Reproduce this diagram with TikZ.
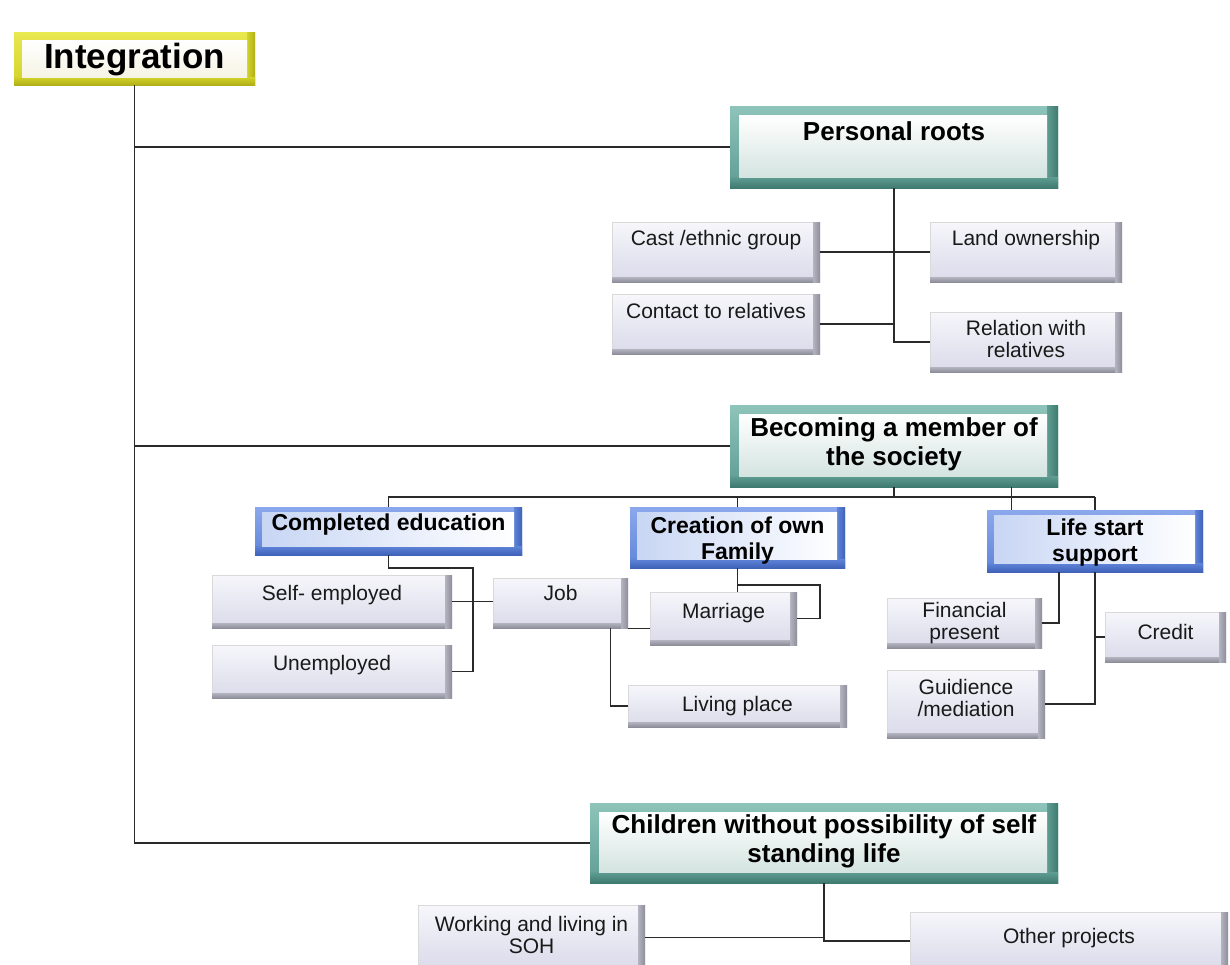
\documentclass[tikz,border=0pt]{standalone}
\usepackage{fontspec}
\setmainfont{Liberation Sans}
\usetikzlibrary{fit}

\definecolor{wirec}{HTML}{2A2A2A}
\definecolor{leafT}{HTML}{F6F6FB}
\definecolor{leafB}{HTML}{DADAEA}
\definecolor{leafE1}{HTML}{B4B4C0}
\definecolor{leafE2}{HTML}{8E8E9A}
\definecolor{tealL}{HTML}{8EC4BA}
\definecolor{tealM}{HTML}{5F9C92}
\definecolor{tealD}{HTML}{3F7A70}
\definecolor{tealIn}{HTML}{D4E4E0}
\definecolor{blueL}{HTML}{8CA8EC}
\definecolor{blueM}{HTML}{5F84D8}
\definecolor{blueD}{HTML}{3F62B8}
\definecolor{blueIn}{HTML}{C8D6F4}
\definecolor{yelL}{HTML}{E8E850}
\definecolor{yelM}{HTML}{D2D22A}
\definecolor{yelD}{HTML}{B0B018}
\definecolor{yelIn}{HTML}{F6F4E4}

\tikzset{
  wire/.style={draw=wirec, line width=0.75pt},
  lbl/.style={font=\fontsize{10.5}{11}\selectfont, text=black!90, align=center, inner sep=0pt},
  headlbl/.style={font=\bfseries\fontsize{13}{14.5}\selectfont, text=black, align=center, inner sep=0pt},
  sublbl/.style={font=\bfseries\fontsize{11.5}{13}\selectfont, text=black, align=center, inner sep=0pt},
  toplbl/.style={font=\bfseries\fontsize{17.5}{20}\selectfont, text=black, inner sep=0pt},
  % light bevelled leaf box
  leaf/.style={inner sep=0pt, fill=white,
    path picture={
      \shade[top color=leafT, bottom color=leafB]
        (path picture bounding box.south west) rectangle (path picture bounding box.north east);
      \shade[left color=leafE1, right color=leafE2]
        ([xshift=-3.5pt]path picture bounding box.south east) rectangle (path picture bounding box.north east);
      \shade[top color=leafE1, bottom color=leafE2]
        (path picture bounding box.south west) rectangle ([xshift=-3.5pt,yshift=2.5pt]path picture bounding box.south east);
      \draw[gray!30, line width=0.4pt]
        ([yshift=2.5pt]path picture bounding box.south west) -- (path picture bounding box.north west)
        -- ([xshift=-3.5pt]path picture bounding box.north east);
    }},
  % teal framed heading box
  tealbox/.style={inner sep=0pt, fill=white,
    path picture={
      \shade[top color=tealL, bottom color=tealM]
        (path picture bounding box.south west) rectangle (path picture bounding box.north east);
      \shade[left color=tealM, right color=tealD]
        ([xshift=-5.5pt]path picture bounding box.south east) rectangle (path picture bounding box.north east);
      \shade[top color=tealM, bottom color=tealD]
        (path picture bounding box.south west) rectangle ([yshift=5.5pt]path picture bounding box.south east);
      \shade[top color=white, bottom color=tealIn]
        ([shift={(4.5pt,-4.5pt)}]path picture bounding box.north west)
        rectangle ([shift={(-5.5pt,5.5pt)}]path picture bounding box.south east);
    }},
  % blue framed sub-heading box
  bluebox/.style={inner sep=0pt, fill=white,
    path picture={
      \shade[top color=blueL, bottom color=blueM]
        (path picture bounding box.south west) rectangle (path picture bounding box.north east);
      \shade[left color=blueM, right color=blueD]
        ([xshift=-4pt]path picture bounding box.south east) rectangle (path picture bounding box.north east);
      \shade[top color=blueM, bottom color=blueD]
        (path picture bounding box.south west) rectangle ([yshift=4.5pt]path picture bounding box.south east);
      \shade[left color=blueIn, right color=white]
        ([shift={(3.5pt,-2.5pt)}]path picture bounding box.north west)
        rectangle ([shift={(-4pt,4.5pt)}]path picture bounding box.south east);
    }},
  % yellow framed root box
  yelbox/.style={inner sep=0pt, fill=white,
    path picture={
      \shade[top color=yelL, bottom color=yelM]
        (path picture bounding box.south west) rectangle (path picture bounding box.north east);
      \shade[left color=yelM, right color=yelD]
        ([xshift=-4pt]path picture bounding box.south east) rectangle (path picture bounding box.north east);
      \shade[top color=yelM, bottom color=yelD]
        (path picture bounding box.south west) rectangle ([yshift=4pt]path picture bounding box.south east);
      \shade[top color=white, bottom color=yelIn]
        ([shift={(4pt,-4pt)}]path picture bounding box.north west)
        rectangle ([shift={(-4pt,4pt)}]path picture bounding box.south east);
    }},
}

\begin{document}
\begin{tikzpicture}[x=0.5pt, y=-0.5pt]
\useasboundingbox[fill=white] (0,0) rectangle (1230,964);

% root
\node[yelbox, fit={(14,32)(255,85)}, label={[toplbl, yshift=-0.5pt]center:Integration}] (integ) {};

% main branches
\node[tealbox, fit={(730,106)(1058,188)}, label={[headlbl, yshift=8pt]center:Personal roots}] (proots) {};
\node[tealbox, fit={(730,405)(1058,487)}, label={[headlbl, yshift=1pt]center:{Becoming a member of\\the society}}] (becoming) {};
\node[tealbox, fit={(590,803)(1058,883)}, label={[headlbl, yshift=1pt]center:{Children without possibility of self\\standing life}}] (children) {};

% personal roots leaves
\node[leaf, fit={(612,222)(820,282)}, label={[lbl, yshift=6pt]center:{Cast /ethnic group}}] (cast) {};
\node[leaf, fit={(930,222)(1122,282)}, label={[lbl, yshift=6pt]center:{Land ownership}}] (land) {};
\node[leaf, fit={(612,294)(820,354)}, label={[lbl, yshift=6.5pt]center:{Contact to relatives}}] (contact) {};
\node[leaf, fit={(930,312)(1122,372)}, label={[lbl, yshift=1.5pt]center:{Relation with\\relatives}}] (relation) {};

% society sub-branches
\node[bluebox, fit={(255,507)(522,555)}, label={[sublbl, yshift=3pt]center:{Completed education}}] (compl) {};
\node[bluebox, fit={(630,507)(845,568)}, label={[sublbl, yshift=-1.5pt]center:{Creation of own\\Family}}] (creation) {};
\node[bluebox, fit={(987,510)(1203,572)}, label={[sublbl, yshift=-1pt]center:{Life start\\support}}] (life) {};

% education / family leaves
\node[leaf, fit={(212,575)(452,628)}, label={[lbl, yshift=3pt]center:{Self- employed}}] (selfemp) {};
\node[leaf, fit={(212,645)(452,698)}, label={[lbl, yshift=3pt]center:{Unemployed}}] (unemp) {};
\node[leaf, fit={(493,578)(628,628)}, label={[lbl, yshift=5pt]center:{Job}}] (job) {};
\node[leaf, fit={(650,592)(797,645)}, label={[lbl, yshift=2.5pt]center:{Marriage}}] (marriage) {};
\node[leaf, fit={(628,685)(847,727)}, label={[lbl, yshift=0pt]center:{Living place}}] (living) {};

% life start leaves
\node[leaf, fit={(887,598)(1042,648)}, label={[lbl, yshift=0pt]center:{Financial\\present}}] (financial) {};
\node[leaf, fit={(1105,612)(1226,662)}, label={[lbl, yshift=2.5pt]center:{Credit}}] (credit) {};
\node[leaf, fit={(887,670)(1045,738)}, label={[lbl, yshift=3pt]center:{Guidience\\/mediation}}] (guid) {};

% children leaves
\node[leaf, fit={(418,905)(645,970)}, label={[lbl, yshift=1.5pt]center:{Working and living in\\SOH}}] (working) {};
\node[leaf, fit={(910,912)(1228,970)}, label={[lbl, yshift=1.5pt]center:{Other projects}}] (other) {};

% trunk from the root
\draw[wire] (integ.south) |- (proots.west);
\draw[wire] (integ.south) |- (becoming.west);
\draw[wire] (integ.south) |- (children.west);

% personal roots
\draw[wire] (proots.south) |- (relation.west);
\draw[wire] (cast.east) -- (land.west);
\draw[wire] (contact.east) -- (contact.east -| proots.south);

% society bus
\coordinate (busL) at (388,497);
\coordinate (busR) at (1095,497);
\draw[wire] (busL) -- (busR);
\draw[wire] (becoming.south) -- (becoming.south |- busL);
\draw[wire] (compl.north) -- (compl.north |- busL);
\draw[wire] (creation.north) -- (creation.north |- busL);
\draw[wire] (life.north) -- (life.north |- busR);
\draw[wire] ([xshift=12.5pt]life.north west) -- ([xshift=12.5pt]life.north west |- becoming.south);

% education
\coordinate (eduK) at (473,568);
\draw[wire] (compl.south) |- (eduK) -- (eduK |- unemp.east) -- (unemp.east);
\draw[wire] (selfemp.east) -- (selfemp.east -| job.west);

% family
\coordinate (famK) at (820,585);
\draw[wire] (creation.south) -- (creation.south |- marriage.north);
\draw[wire] (creation.south |- famK) -- (famK) -- (famK |- marriage.east) -- (marriage.east);
\draw[wire] (job.south east) -- (job.south east -| marriage.west);
\draw[wire] ([xshift=-9pt]job.south east) |- (living.west);

% life start
\draw[wire] ([xshift=-18pt]life.south) |- (financial.east);
\draw[wire] (life.south) |- (guid.east);
\draw[wire] (life.south |- credit.west) -- (credit.west);

% children
\draw[wire] (children.south) |- (other.west);
\draw[wire] (working.east) -- (working.east -| children.south);
\end{tikzpicture}
\end{document}
